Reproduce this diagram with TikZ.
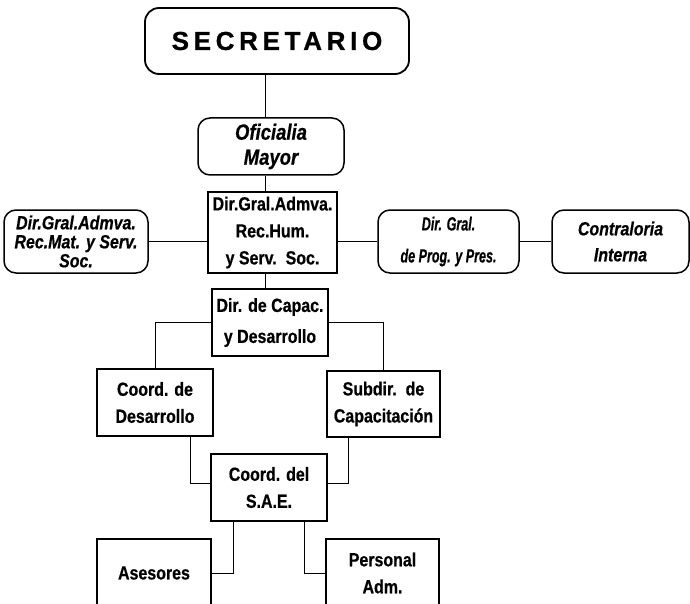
\documentclass[tikz,border=0pt]{standalone}
\usepackage{fontspec}
\setmainfont{Liberation Sans}
\newfontfamily\boxfont[FakeStretch=0.84, FakeBold=0.6]{Liberation Sans}
\newfontfamily\narrowfont[FakeStretch=0.66, FakeBold=0.6]{Liberation Sans}
\newfontfamily\titlefont[LetterSpace=18, FakeBold=0.8]{Liberation Sans}

\begin{document}
\begin{tikzpicture}[x = 1pt, y = -1pt, thick,
        unit/.style = {rectangle, draw, line width = 1.4pt, align = center, inner sep = 0pt,
            font = \boxfont\bfseries\fontsize{19}{27}\selectfont},
        office/.style = {rectangle, rounded corners = 12pt, draw, line width = 1.5pt, align = center, inner sep = 0pt,
            font = \boxfont\bfseries\itshape\fontsize{19}{19}\selectfont}]
        \useasboundingbox (0, 0) rectangle (690, 604);
        \clip (0, 0) rectangle (690, 604);

        % upper levels
        \node (sec) [office, line width = 1.8pt, rounded corners = 14pt, minimum width = 264pt, minimum height = 66pt,
            font = \titlefont\bfseries\fontsize{26}{28}\selectfont] at (277, 41) {SECRETARIO};
        \node (ofi) [office, minimum width = 146pt, minimum height = 57pt,
            font = \boxfont\bfseries\itshape\fontsize{22}{25}\selectfont] at (271, 146.5) {Oficialia\\Mayor};
        \node (dga) [unit, minimum width = 129pt, minimum height = 81pt] at (272.5, 232.5) {Dir.Gral.Admva.\\Rec.Hum.\\y Serv.~~Soc.};
        \node (dgm) [office, minimum width = 144pt, minimum height = 63pt] at (76, 241.5) {Dir.Gral.Admva.\\Rec.Mat. y Serv.\\Soc.};
        \node (dgp) [office, minimum width = 141pt, minimum height = 63pt,
            font = \narrowfont\bfseries\itshape\fontsize{19}{19}\selectfont] at (448.5, 241.5) {Dir. Gral.\\[13pt]de Prog. y Pres.};
        \node (con) [office, minimum width = 137pt, minimum height = 63pt] at (620.5, 241.5) {Contraloria\\[7pt]Interna};

        % lower levels
        \node (cap) [unit, minimum width = 116pt, minimum height = 67pt] at (270, 322.5) {Dir. de Capac.\\[4pt]y Desarrollo};
        \node (cdes) [unit, minimum width = 116pt, minimum height = 67pt] at (155, 402.5) {Coord. de\\Desarrollo};
        \node (sub) [unit, minimum width = 113pt, minimum height = 66pt] at (383.5, 404) {Subdir.~~de\\Capacitación};
        \node (sae) [unit, minimum width = 116pt, minimum height = 67pt] at (269, 487.5) {Coord. del\\S.A.E.};
        \node (ase) [unit, minimum width = 114pt, minimum height = 68pt] at (154, 573) {Asesores};
        \node (per) [unit, minimum width = 113pt, minimum height = 68pt] at (382.5, 573) {Personal\\Adm.};

        \coordinate (axis) at (265, 0);

        \draw (sec.south -| axis) -- (ofi.north -| axis);
        \draw (ofi.south -| axis) -- (dga.north -| axis);
        \draw (dga.south -| axis) -- (cap.north -| axis);
        \draw (dgm.east) -- (dgm.east -| dga.west);
        \draw (dga.east |- dgp.west) -- (dgp.west);
        \draw (dgp.east) -- (con.west);

        \draw (cap.west) -| (cdes.north);
        \draw (cap.east) -| (sub.north);
        \draw ([xshift = 35pt]cdes.south) |- ([yshift = 4pt]sae.west);
        \draw ([xshift = -35pt]sub.south) |- ([yshift = 4pt]sae.east);
        \draw ([xshift = -36pt]sae.south) |- (ase.east);
        \draw ([xshift = 35pt]sae.south) |- (per.west);
    \end{tikzpicture}
\end{document}
